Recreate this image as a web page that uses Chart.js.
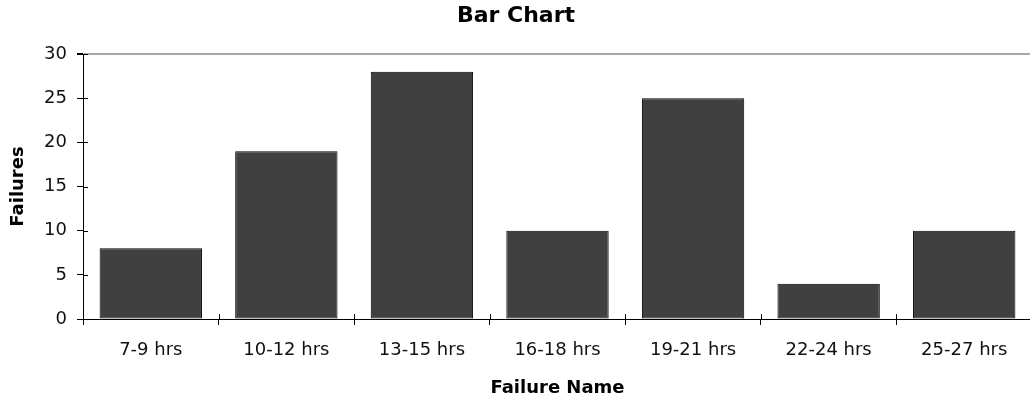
<!DOCTYPE html>
<html>
<head>
<meta charset="utf-8">
<title>Bar Chart</title>
<script src="https://cdn.jsdelivr.net/npm/chart.js@4.4.1/dist/chart.umd.min.js"></script>
<style>
    html, body { margin: 0; padding: 0; background: #fff; overflow: hidden; }
    #wrap { width: 1032px; height: 402px; }
</style>
</head>
<body>
<div id="wrap"><canvas id="barChart" width="1032" height="402"></canvas></div>
<script>
// Chart data
const categories = ['7-9 hrs', '10-12 hrs', '13-15 hrs', '16-18 hrs', '19-21 hrs', '22-24 hrs', '25-27 hrs'];
const failures = [8, 19, 28, 10, 25, 4, 10];
const yTicks = [0, 5, 10, 15, 20, 25, 30];

// Excel style tick marks that cross the axis line (inner half only, outer half is Chart.js)
const crossTicks = {
    id: 'crossTicks',
    afterDraw(chart) {
        const { ctx } = chart;
        const x = chart.scales.x;
        const y = chart.scales.y;
        ctx.save();
        ctx.strokeStyle = '#000';
        ctx.lineWidth = 1;
        ctx.beginPath();
        yTicks.forEach(v => {
            const py = Math.round(y.getPixelForValue(v)) + 0.5;
            ctx.moveTo(y.right, py);
            ctx.lineTo(y.right + 5, py);
        });
        const step = (x.right - x.left) / categories.length;
        for (let i = 0; i <= categories.length; i++) {
            const px = Math.round(x.left + i * step) + 0.5;
            ctx.moveTo(px, x.top);
            ctx.lineTo(px, x.top - 5);
        }
        ctx.stroke();
        ctx.restore();
    }
};

document.addEventListener('DOMContentLoaded', () => {
    const ctx = document.getElementById('barChart');

    new Chart(ctx, {
        type: 'bar',
        data: {
            labels: categories,
            datasets: [{
                label: 'Failures',
                data: failures,
                backgroundColor: '#404040',
                borderColor: '#000',
                borderWidth: 1,
                borderSkipped: false,
                barPercentage: 0.755,
                categoryPercentage: 1
            }]
        },
        options: {
            responsive: false,
            animation: false,
            devicePixelRatio: 1,
            layout: { padding: 0 },
            scales: {
                x: {
                    afterFit: (scale) => { scale.height = 83; },
                    border: { color: '#000', width: 1 },
                    grid: {
                        offset: true,
                        drawOnChartArea: false,
                        tickLength: 6,
                        tickColor: '#000'
                    },
                    ticks: {
                        color: '#111',
                        padding: 15,
                        maxRotation: 0,
                        font: { family: 'DejaVu Sans', size: 18 }
                    },
                    title: {
                        display: true,
                        text: 'Failure Name',
                        color: '#000',
                        padding: { top: 3, bottom: 3 },
                        font: { family: 'DejaVu Sans', size: 18, weight: 'bold' }
                    }
                },
                y: {
                    min: 0,
                    max: 30,
                    afterFit: (scale) => { scale.width = 83; },
                    afterBuildTicks: (scale) => {
                        scale.ticks = yTicks.map(v => ({ value: v }));
                    },
                    border: { color: '#000', width: 1 },
                    grid: {
                        color: (c) => (c.tick && c.tick.value === 30 ? '#a8a8a8' : 'rgba(0,0,0,0)'),
                        lineWidth: (c) => (c.tick && c.tick.value === 30 ? 2 : 1),
                        tickColor: '#000',
                        tickLength: 6
                    },
                    ticks: {
                        color: '#111',
                        padding: 10,
                        font: { family: 'DejaVu Sans', size: 18 }
                    },
                    title: {
                        display: true,
                        text: 'Failures',
                        color: '#000',
                        padding: { top: 8, bottom: 8 },
                        font: { family: 'DejaVu Sans', size: 18, weight: 'bold' }
                    }
                }
            },
            plugins: {
                legend: { display: false },
                tooltip: { enabled: false },
                title: {
                    display: true,
                    text: 'Bar Chart',
                    color: '#000',
                    padding: { top: 3, bottom: 24.6 },
                    font: { family: 'DejaVu Sans', size: 22, weight: 'bold', lineHeight: 1.2 }
                }
            }
        },
        plugins: [crossTicks]
    });
});
</script>
</body>
</html>
